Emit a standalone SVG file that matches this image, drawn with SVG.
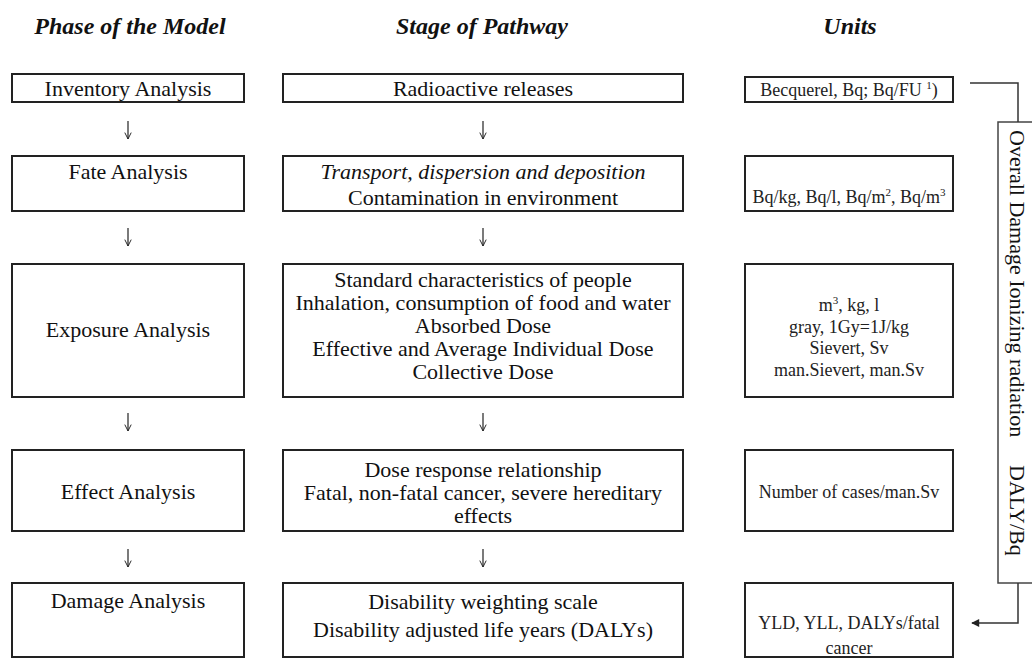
<svg xmlns="http://www.w3.org/2000/svg" width="1032" height="660" viewBox="0 0 1032 660">
<style>
.bg{fill:#ffffff}
.box{fill:#ffffff;stroke:#222;stroke-width:2}
.bracket{fill:#ffffff;stroke:#444;stroke-width:1.5}
.title{font-family:"Liberation Serif","Times New Roman",serif;font-size:24px;font-weight:bold;font-style:italic;fill:#111;text-anchor:middle}
.t{font-family:"Liberation Serif","Times New Roman",serif;font-size:22px;fill:#111;text-anchor:middle}
.u{font-family:"Liberation Serif","Times New Roman",serif;font-size:18px;fill:#222;text-anchor:middle}
.v{font-family:"Liberation Serif","Times New Roman",serif;font-size:22px;fill:#111}
.it{font-style:italic}
.conn{fill:none;stroke:#222;stroke-width:1.2}
.line{fill:none;stroke:#333;stroke-width:1.5}
</style>
<defs>
<marker id="vee" viewBox="0 0 10 10" refX="9" refY="5" markerWidth="8" markerHeight="8" markerUnits="userSpaceOnUse" orient="auto">
<path d="M1,1 L9,5 L1,9" fill="none" stroke="#222" stroke-width="1.2"/>
</marker>
<marker id="solid" viewBox="0 0 10 10" refX="9" refY="5" markerWidth="10" markerHeight="8" markerUnits="userSpaceOnUse" orient="auto">
<path d="M0,0 L10,5 L0,10 Z" fill="#222"/>
</marker>
</defs>
<rect class="bg" x="0" y="0" width="1032" height="660"/>

<g id="titles">
<text class="title" x="130" y="34">Phase of the Model</text>
<text class="title" x="482" y="34">Stage of Pathway</text>
<text class="title" x="850" y="34">Units</text>
</g>

<g id="phase-inventory"><rect class="box" x="12" y="74" width="232" height="28"/><text class="t" x="128" y="96">Inventory Analysis</text></g>
<g id="phase-fate"><rect class="box" x="12" y="156" width="232" height="55"/><text class="t" x="128" y="179">Fate Analysis</text></g>
<g id="phase-exposure"><rect class="box" x="12" y="264" width="232" height="133"/><text class="t" x="128" y="337">Exposure Analysis</text></g>
<g id="phase-effect"><rect class="box" x="12" y="450" width="232" height="81"/><text class="t" x="128" y="499">Effect Analysis</text></g>
<g id="phase-damage"><rect class="box" x="12" y="583" width="232" height="74"/><text class="t" x="128" y="608">Damage Analysis</text></g>

<g id="stage-releases"><rect class="box" x="283" y="74" width="400" height="28"/><text class="t" x="483" y="96">Radioactive releases</text></g>
<g id="stage-transport"><rect class="box" x="283" y="156" width="400" height="55"/>
<text class="t it" x="483" y="179">Transport, dispersion and deposition</text>
<text class="t" x="483" y="205">Contamination in environment</text></g>
<g id="stage-exposure"><rect class="box" x="283" y="264" width="400" height="133"/>
<text class="t" x="483" y="287">Standard characteristics of people</text>
<text class="t" x="483" y="310">Inhalation, consumption of food and water</text>
<text class="t" x="483" y="333">Absorbed Dose</text>
<text class="t" x="483" y="356">Effective and Average Individual Dose</text>
<text class="t" x="483" y="379">Collective Dose</text></g>
<g id="stage-effect"><rect class="box" x="283" y="450" width="400" height="81"/>
<text class="t" x="483" y="477">Dose response relationship</text>
<text class="t" x="483" y="500">Fatal, non-fatal cancer, severe hereditary</text>
<text class="t" x="483" y="523">effects</text></g>
<g id="stage-damage"><rect class="box" x="283" y="583" width="400" height="74"/>
<text class="t" x="483" y="609">Disability weighting scale</text>
<text class="t" x="483" y="637">Disability adjusted life years (DALYs)</text></g>

<g id="units-inventory"><rect class="box" x="745" y="77" width="208" height="25"/>
<text class="u" x="849" y="96">Becquerel, Bq; Bq/FU <tspan font-size="11" dy="-7">1</tspan><tspan dy="7">)</tspan></text></g>
<g id="units-fate"><rect class="box" x="745" y="156" width="208" height="55"/>
<text class="u" x="849" y="203">Bq/kg, Bq/l, Bq/m<tspan font-size="11" dy="-7">2</tspan><tspan dy="7">, Bq/m</tspan><tspan font-size="11" dy="-7">3</tspan></text></g>
<g id="units-exposure"><rect class="box" x="745" y="264" width="208" height="133"/>
<text class="u" x="849" y="311">m<tspan font-size="11" dy="-7">3</tspan><tspan dy="7">, kg, l</tspan></text>
<text class="u" x="849" y="333">gray, 1Gy=1J/kg</text>
<text class="u" x="849" y="354">Sievert, Sv</text>
<text class="u" x="849" y="376">man.Sievert, man.Sv</text></g>
<g id="units-effect"><rect class="box" x="745" y="450" width="208" height="81"/>
<text class="u" x="849" y="498">Number of cases/man.Sv</text></g>
<g id="units-damage"><rect class="box" x="745" y="583" width="208" height="74"/>
<text class="u" x="849" y="629" font-size="19">YLD, YLL, DALYs/fatal</text>
<text class="u" x="849" y="654">cancer</text></g>

<g id="overall-damage">
<rect class="bracket" x="998" y="122" width="60" height="461"/>
<text class="v" transform="translate(1010,130) rotate(90)" x="0" y="0">Overall Damage Ionizing radiation</text>
<text class="v" transform="translate(1010,465) rotate(90)" x="0" y="0">DALY/Bq</text>
</g>

<g id="connectors">
<path class="conn" d="M128,121 V139" marker-end="url(#vee)"/>
<path class="conn" d="M128,228 V246" marker-end="url(#vee)"/>
<path class="conn" d="M128,413 V431" marker-end="url(#vee)"/>
<path class="conn" d="M128,549 V567" marker-end="url(#vee)"/>
<path class="conn" d="M483,121 V139" marker-end="url(#vee)"/>
<path class="conn" d="M483,228 V246" marker-end="url(#vee)"/>
<path class="conn" d="M483,413 V431" marker-end="url(#vee)"/>
<path class="conn" d="M483,549 V567" marker-end="url(#vee)"/>
<path class="line" d="M970,83 H1018 V122"/>
<path class="line" d="M1018,583 V623 H972" marker-end="url(#solid)"/>
</g>
</svg>
